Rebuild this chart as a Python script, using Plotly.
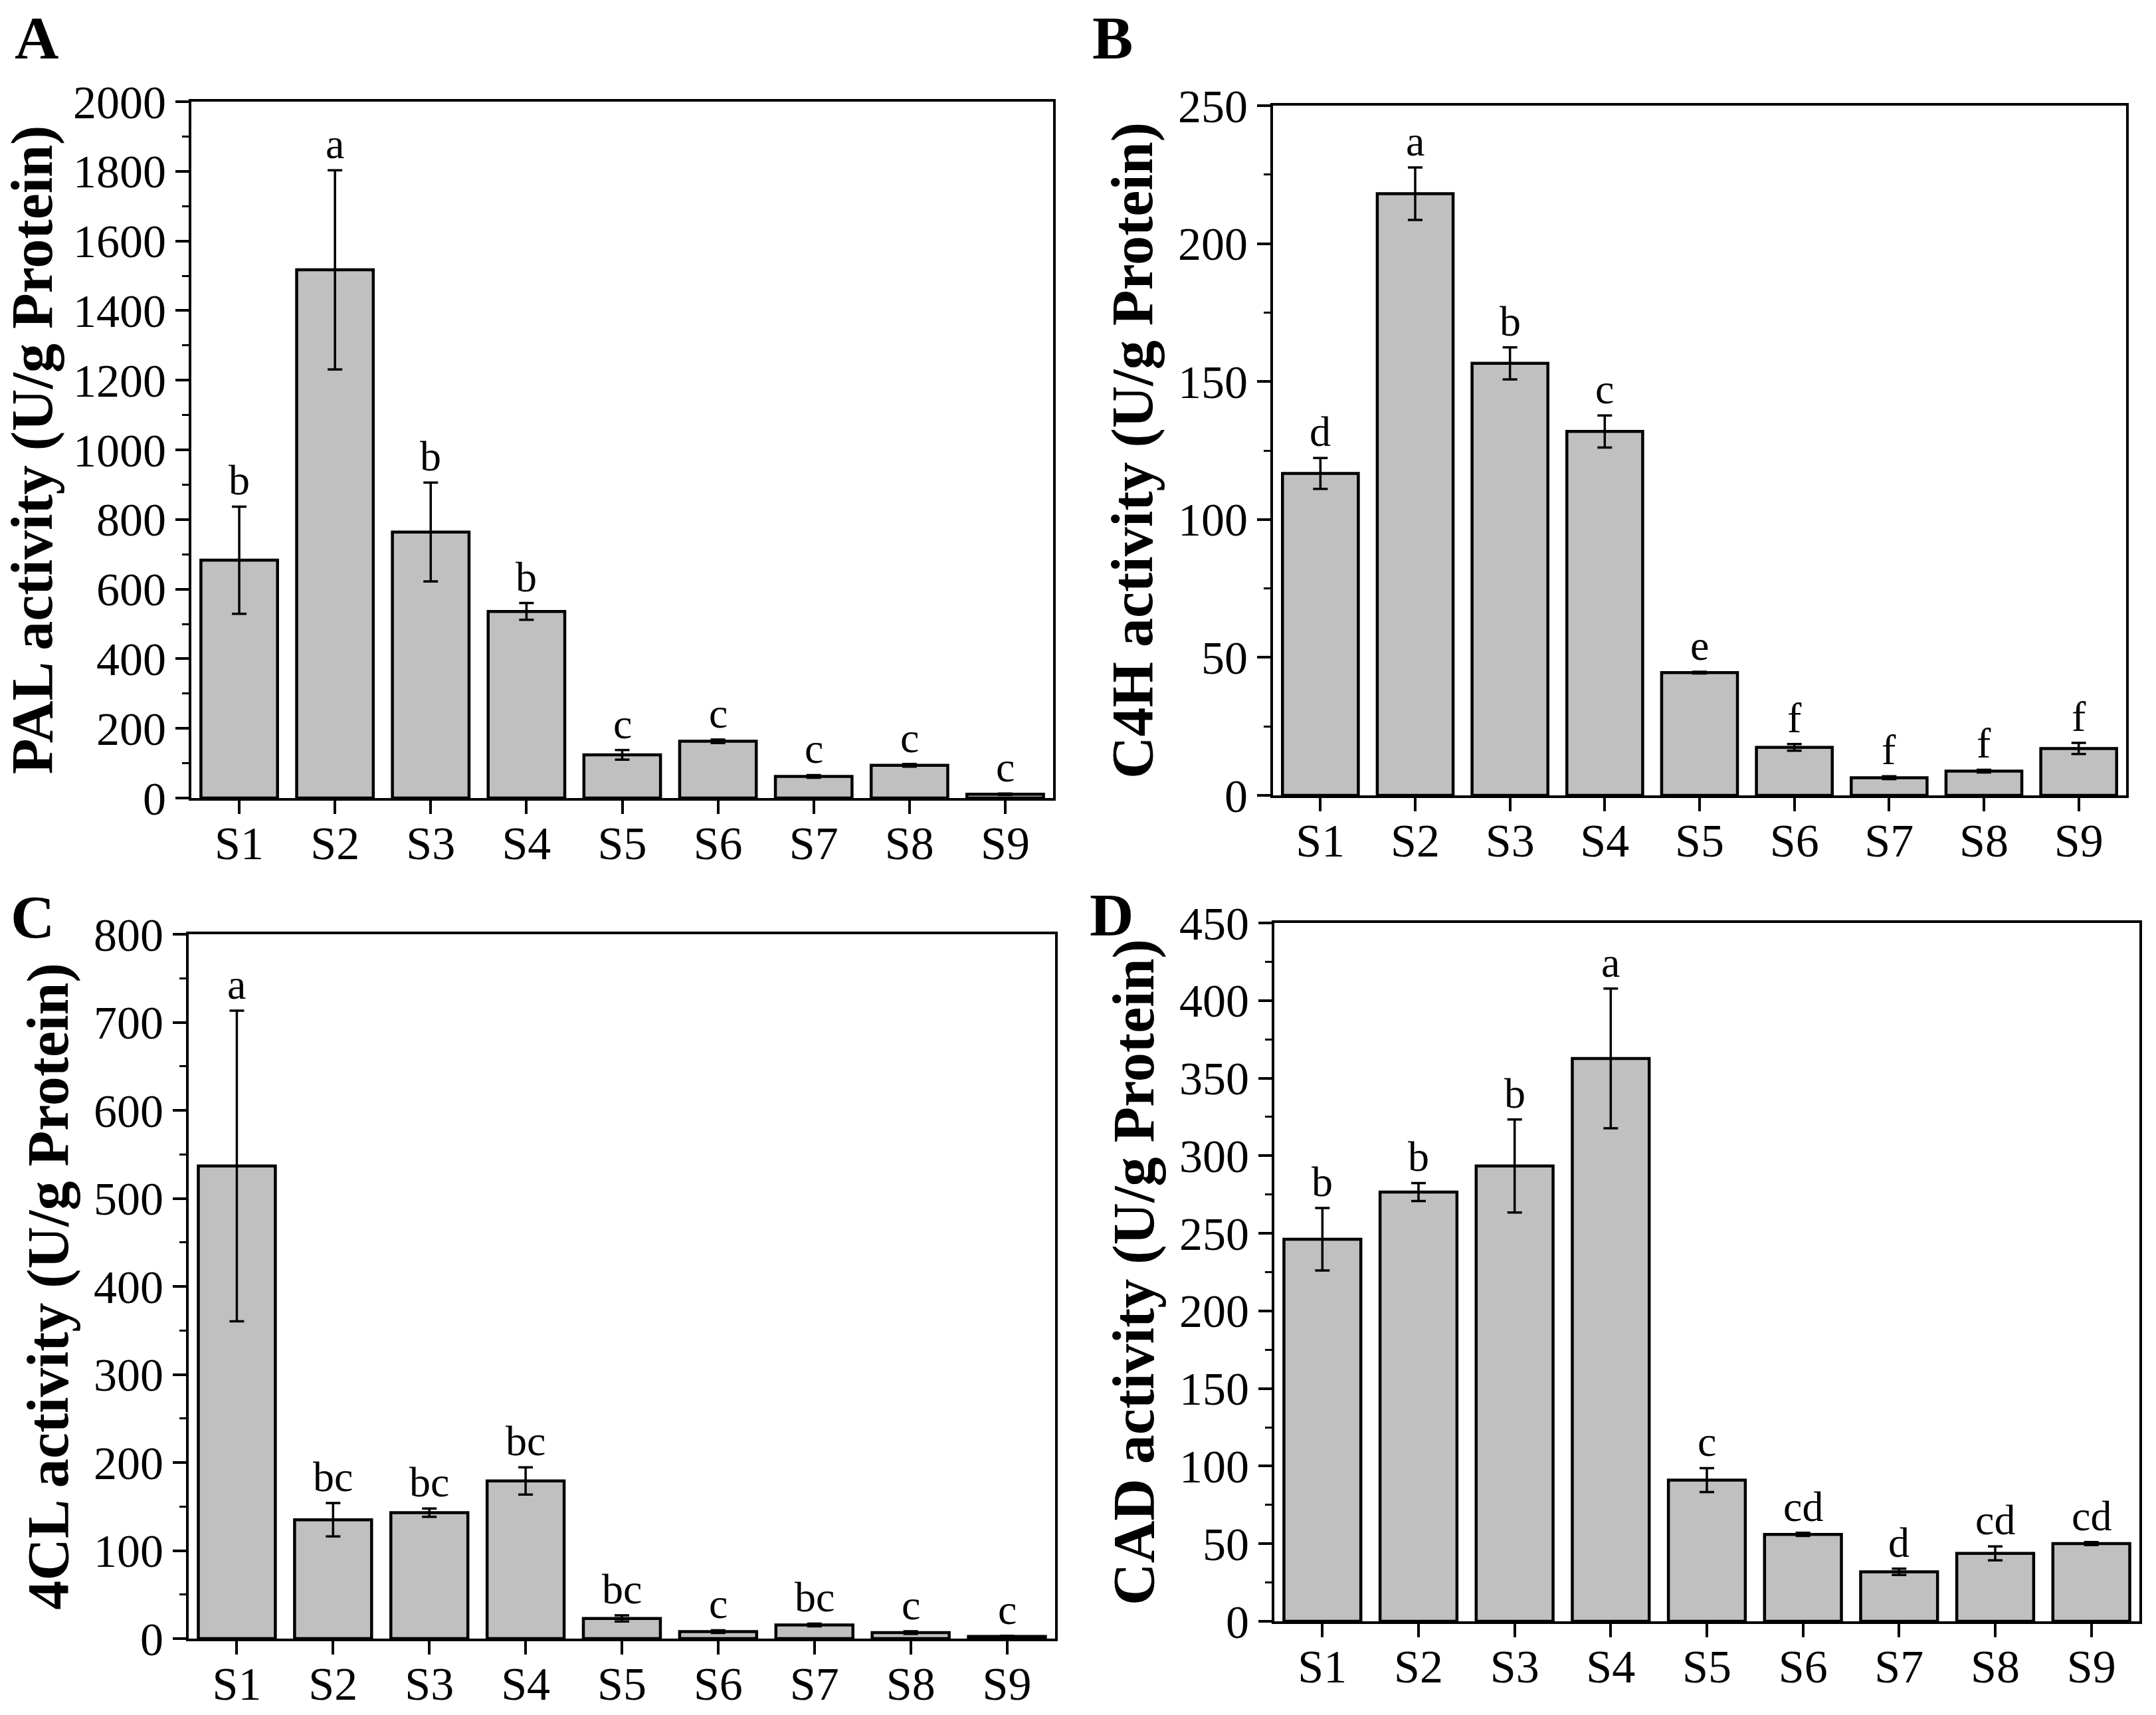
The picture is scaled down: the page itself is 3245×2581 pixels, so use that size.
import plotly.graph_objects as go

categories = ["S1", "S2", "S3", "S4", "S5", "S6", "S7", "S8", "S9"]

pal_mean = [683, 1517, 764, 536, 124, 163, 62, 94, 11]
pal_err = [154, 286, 142, 24, 14, 5, 4, 4, 2]
pal_letters = ["b", "a", "b", "b", "c", "c", "c", "c", "c"]

c4h_mean = [116.7, 218.1, 156.6, 131.9, 44.5, 17.4, 6.4, 8.8, 17.0]
c4h_err = [5.6, 9.5, 5.8, 5.8, 0.3, 1.2, 0.5, 0.5, 2.0]
c4h_letters = ["d", "a", "b", "c", "e", "f", "f", "f", "f"]

cl4_mean = [536.8, 135.0, 143.0, 179.0, 22.9, 8.0, 15.5, 6.8, 2.5]
cl4_err = [176.5, 19.0, 4.7, 15.5, 3.5, 1.5, 1.5, 1.5, 0.5]
cl4_letters = ["a", "bc", "bc", "bc", "bc", "c", "bc", "c", "c"]

cad_mean = [246.2, 276.6, 293.4, 362.7, 91.0, 56.0, 31.9, 43.8, 50.1]
cad_err = [20.1, 5.8, 30.0, 45.0, 7.7, 1.0, 2.0, 4.5, 1.0]
cad_letters = ["b", "b", "b", "a", "c", "cd", "d", "cd", "cd"]

y_titles = ["PAL activity (U/g Protein)", "C4H activity (U/g Protein)",
            "4CL activity (U/g Protein)", "CAD activity (U/g Protein)"]
y_ranges = [[0, 2000], [0, 250], [0, 800], [0, 450]]
y_dticks = [200, 50, 100, 50]
panel_labels = ["A", "B", "C", "D"]

W, H = 3245, 2581
# plot-area boxes in page pixels (left, right, top, bottom)
boxes = [(288, 1585, 153, 1201), (1916, 3200, 159, 1197),
         (284, 1588, 1406, 2466), (1918, 3220, 1389, 2440)]
label_pos = [(20, 57), (1642, 57), (14, 1380), (1638, 1377)]


def fx(p):
    return p / W


def fy(p):
    return 1 - p / H


FONT = "Liberation Serif"
series = [(pal_mean, pal_err, pal_letters), (c4h_mean, c4h_err, c4h_letters),
          (cl4_mean, cl4_err, cl4_letters), (cad_mean, cad_err, cad_letters)]

fig = go.Figure()
annotations = []
layout = {}
for i, (mean, err, letters) in enumerate(series):
    sfx = "" if i == 0 else str(i + 1)
    fig.add_trace(go.Bar(
        x=categories, y=mean, width=0.8,
        marker=dict(color="#c0c0c0", line=dict(color="black", width=4.5)),
        error_y=dict(type="data", array=err, visible=True, color="black",
                     thickness=3.5, width=11),
        xaxis="x" + sfx, yaxis="y" + sfx, showlegend=False,
    ))
    l, r, t, b = boxes[i]
    layout["xaxis" + sfx] = dict(
        domain=[fx(l), fx(r)], anchor="y" + sfx, range=[-0.5, 8.5],
        automargin=False,
        showline=True, linecolor="black", linewidth=4, mirror=True,
        ticks="outside", ticklen=20, tickwidth=4, tickcolor="black",
        ticklabelstandoff=-16,
        tickfont=dict(family=FONT, size=70, color="black"),
        showgrid=False, zeroline=False,
    )
    layout["yaxis" + sfx] = dict(
        domain=[fy(b), fy(t)], anchor="x" + sfx, range=y_ranges[i],
        automargin=False,
        dtick=y_dticks[i], tick0=0,
        showline=True, linecolor="black", linewidth=4, mirror=True,
        ticks="outside", ticklen=20, tickwidth=4, tickcolor="black",
        minor=dict(ticks="outside", ticklen=10, tickwidth=3, tickcolor="black",
                   dtick=y_dticks[i] / 2, showgrid=False),
        tickfont=dict(family=FONT, size=70, color="black"),
        title=dict(text="<b>" + y_titles[i] + "</b>", standoff=10,
                   font=dict(family=FONT, size=88, color="black")),
        showgrid=False, zeroline=False,
    )
    for j, cat in enumerate(categories):
        annotations.append(dict(
            x=cat, y=mean[j] + err[j], xref="x" + sfx, yref="y" + sfx,
            text=letters[j], showarrow=False, yanchor="bottom", yshift=2,
            font=dict(family=FONT, size=64, color="black"),
        ))
    lx, ly = label_pos[i]
    annotations.append(dict(
        x=fx(lx), y=fy(ly), xref="paper", yref="paper",
        text="<b>" + panel_labels[i] + "</b>", showarrow=False,
        xanchor="left", yanchor="middle",
        font=dict(family=FONT, size=92, color="black"),
    ))

fig.update_layout(
    width=W, height=H, margin=dict(l=0, r=0, t=0, b=0),
    paper_bgcolor="white", plot_bgcolor="white",
    annotations=annotations, bargap=0.2, **layout,
)
fig.write_html("out.html",
               config={"displayModeBar": False},
               post_script="document.body.style.margin='0';"
                           "document.body.style.overflow='hidden';")
